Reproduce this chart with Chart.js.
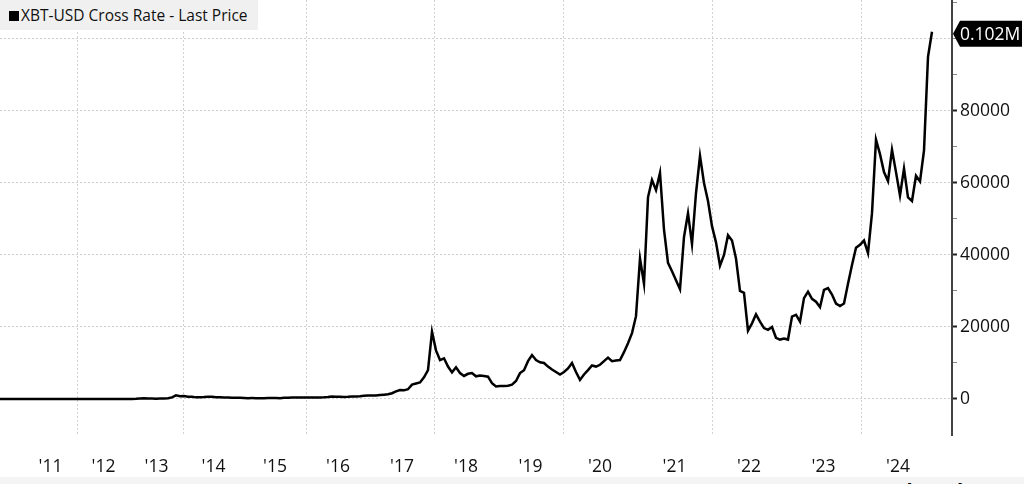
<!DOCTYPE html>
<html>
<head>
<meta charset="utf-8">
<script src="https://cdn.jsdelivr.net/npm/chart.js@4.4.1/dist/chart.umd.min.js"></script>
<style>
  html, body { margin: 0; padding: 0; background: #fff; }
  #wrap { position: relative; width: 1024px; height: 484px; overflow: hidden; }
  #title {
    position: absolute; left: 0; top: 0; width: 258px; height: 30px;
    background: #f0f0f0; color: #111;
    font: 15.5px "Open Sans", sans-serif; line-height: 30px; white-space: nowrap;
  }
  #title .sq { display: inline-block; width: 10px; height: 10px; background: #000; margin: 0 2px 0 9px; }
  #foot {
    position: absolute; left: 0; top: 477px; width: 1024px; height: 7px;
    background: #f4f4f4; overflow: hidden;
  }
  #foot span { position: absolute; left: 893px; top: 0px; font: bold 20px "Open Sans", sans-serif; color: #000; }
</style>
</head>
<body>
<div id="wrap">
  <canvas id="chart" width="1024" height="484"></canvas>
  <div id="title"><span class="sq"></span>XBT-USD Cross Rate - Last Price</div>
  <div id="foot"><span>Bloomberg</span></div>
</div>
<script>
// XBT-USD last price, sampled at equal steps along Bloomberg's trading-day axis (mid 2010 .. Dec 2024)
const prices = [
  0.1, 0.1, 0.2, 0.3, 0.2, 0.3, 0.3, 0.9, 1, 1,
  8, 20, 15, 13, 8, 5, 3, 3, 4, 5,
  6, 5, 5, 5, 6, 7, 9, 11, 11, 12,
  11, 12, 13, 20, 40, 130, 220, 110, 120, 100,
  120, 140, 200, 450, 1000, 750, 850, 650, 600, 450,
  470, 520, 620, 600, 500, 480, 420, 380, 350, 330,
  320, 290, 240, 250, 240, 230, 240, 280, 260, 280,
  240, 320, 330, 380, 420, 440, 430, 420, 400, 410,
  430, 450, 530, 720, 650, 620, 580, 610, 700, 720,
  750, 900, 950, 1000, 1000, 1100, 1200, 1300, 1600, 2100,
  2500, 2400, 2700, 4000, 4300, 4600, 6000, 8000, 18700, 13500,
  10800, 11300, 9000, 7400, 8800, 7200, 6400, 7000, 7200, 6300,
  6500, 6400, 6200, 4400, 3500, 3600, 3600, 3700, 4000, 5000,
  7200, 8000, 10500, 12200, 10800, 10200, 10000, 9000, 8200, 7500,
  6800, 7500, 8500, 10000, 7500, 5300, 6800, 8000, 9300, 9000,
  9500, 10500, 11500, 10500, 10700, 10800, 13000, 15500, 18300, 23000,
  39000, 32000, 56000, 60800, 58000, 62800, 47000, 37800, 35500, 33000,
  30500, 45000, 51600, 43000, 57200, 67500, 60000, 55000, 48000, 43500,
  37000, 40000, 45500, 44000, 39000, 30000, 29500, 19000, 21000, 23500,
  21500, 19700, 19200, 20000, 17000, 16500, 16800, 16500, 22900, 23400,
  21500, 28000, 29800, 27800, 27000, 25500, 30300, 30800, 29000, 26500,
  25800, 26500, 32000, 37200, 42000, 42800, 44000, 40500, 51600, 72000,
  68000, 63000, 60500, 69200, 63000, 56500, 64000, 56000, 55000, 62000,
  60400, 69000, 95000, 102000
];

// year labels and the sample index where each year begins (last entry = start of 2025)
const yearLabels = ["'11", "'12", "'13", "'14", "'15", "'16", "'17", "'18", "'19", "'20", "'21", "'22", "'23", "'24"];
const yearStartSample = [6, 19.25, 32.5, 45.75, 61, 76.5, 92.5, 108.5, 124.5, 140.75, 159.25, 178, 196.5, 215.25, 233.75];
const gridYears = ["'12", "'14", "'16", "'18", "'20", "'22", "'24"];

const yTicks = [0, 10000, 20000, 30000, 40000, 50000, 60000, 70000, 80000, 90000, 100000, 110000];
const yLabelled = [0, 20000, 40000, 60000, 80000];
const yGridLines = [0, 20000, 40000, 60000, 80000, 100000];

const xTicks = [];
const xTickText = {};
yearLabels.forEach((lab, i) => {
  const start = yearStartSample[i];
  const mid = (start + yearStartSample[i + 1]) / 2;
  xTicks.push({ value: start, grid: gridYears.includes(lab) });
  xTicks.push({ value: mid, grid: false });
  xTickText[mid] = lab;
});

const font = { family: '"Open Sans", sans-serif', size: 17.5 };

const lastTag = {
  id: 'lastTag',
  afterDraw(chart) {
    const { ctx, chartArea, scales } = chart;
    const v = prices[prices.length - 1];
    const py = scales.y.getPixelForValue(v) + 2;
    const x0 = chartArea.right + 1;
    ctx.save();
    ctx.fillStyle = '#000';
    ctx.beginPath();
    ctx.moveTo(x0, py);
    ctx.lineTo(x0 + 7, py - 13);
    ctx.lineTo(1022, py - 13);
    ctx.lineTo(1022, py + 13);
    ctx.lineTo(x0 + 7, py + 13);
    ctx.closePath();
    ctx.fill();
    ctx.fillStyle = '#fff';
    ctx.font = '17.5px "Open Sans", sans-serif';
    ctx.textBaseline = 'middle';
    ctx.textAlign = 'left';
    ctx.fillText((v / 1e6).toFixed(3) + 'M', 960, py + 1);
    ctx.restore();
  }
};

new Chart(document.getElementById('chart'), {
  type: 'line',
  data: {
    datasets: [{
      label: 'XBT-USD Cross Rate - Last Price',
      data: prices.map((p, i) => ({ x: i, y: p })),
      borderColor: '#000',
      borderWidth: 2.5,
      pointRadius: 0,
      tension: 0
    }]
  },
  options: {
    responsive: false,
    animation: false,
    layout: { padding: 0 },
    plugins: { legend: { display: false }, tooltip: { enabled: false } },
    scales: {
      x: {
        type: 'linear',
        min: 0,
        max: 238,
        afterBuildTicks: s => { s.ticks = xTicks.map(t => ({ value: t.value })); },
        afterFit: s => { s.height = 49; s.paddingLeft = 0; s.paddingRight = 0; },
        ticks: {
          autoSkip: false,
          maxRotation: 0,
          padding: 22,
          color: '#111',
          font,
          callback: v => xTickText[v] || ''
        },
        grid: {
          drawTicks: false,
          color: c => {
            const t = xTicks.find(t => t.value === (c.tick && c.tick.value));
            return t && t.grid ? '#d2d2d2' : 'rgba(0,0,0,0)';
          }
        },
        border: { display: false, dash: [2, 2] }
      },
      y: {
        type: 'linear',
        position: 'right',
        min: -10000,
        max: 110800,
        afterBuildTicks: s => { s.ticks = yTicks.map(v => ({ value: v })); },
        afterFit: s => { s.width = 72; s.paddingTop = 0; s.paddingBottom = 0; },
        ticks: {
          padding: 3,
          color: '#111',
          font,
          callback: v => yLabelled.includes(v) ? String(v) : ''
        },
        grid: {
          tickLength: 5,
          color: c => yGridLines.includes(c.tick && c.tick.value) ? '#cfcfcf' : 'rgba(0,0,0,0)',
          tickColor: c => yLabelled.includes(c.tick && c.tick.value) ? '#222' : '#888',
          tickWidth: c => yLabelled.includes(c.tick && c.tick.value) ? 2 : 1
        },
        border: { display: true, color: '#444', width: 2, dash: [2, 2] }
      }
    }
  },
  plugins: [lastTag]
});
</script>
</body>
</html>
